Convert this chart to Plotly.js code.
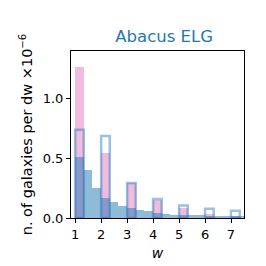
<!DOCTYPE html>
<html>
<head>
<meta charset="utf-8">
<script src="https://cdn.plot.ly/plotly-3.0.1.min.js"></script>
<style>html,body{margin:0;padding:0;background:#fff;}#plot{width:266px;height:266px;}</style>
</head>
<body>
<div id="plot"></div>
<script>
// bin left edges (width 1/3) and histogram heights, in units of 1e-6
var binLeft = [1, 1.3333, 1.6667, 2, 2.3333, 2.6667, 3, 3.3333, 3.6667, 4, 4.3333, 4.6667, 5, 5.3333, 5.6667, 6, 6.3333, 6.6667, 7, 7.3333];
var binWidth = 1/3;
var allGalaxies = [0.51, 0.40, 0.25, 0.165, 0.13, 0.103, 0.084, 0.067, 0.059, 0.042, 0.030, 0.028, 0.025, 0.024, 0.022, 0.020, 0.018, 0.017, 0.016, 0.015];
var intLeft = [1, 2, 3, 4, 5, 6, 7];
var pinkValues = [1.257, 0.542, 0.29, 0.152, 0.081, 0.036, 0.013];
var outlineValues = [0.737, 0.684, 0.292, 0.159, 0.105, 0.077, 0.060];
var xTicks = [1, 2, 3, 4, 5, 6, 7];
var yTicks = [0, 0.5, 1.0];
var yTickText = ['0.0', '0.5', '1.0'];

function centers(lefts){ return lefts.map(function(v){ return v + binWidth/2; }); }

var traces = [
  {type:'bar', x:centers(intLeft), y:pinkValues, width:binWidth,
   marker:{color:'rgba(227,119,194,0.5)', line:{width:0}}, hoverinfo:'none'},
  {type:'bar', x:centers(binLeft), y:allGalaxies, width:binWidth,
   marker:{color:'rgba(31,119,180,0.5)', line:{width:0}}, hoverinfo:'none'},
  {type:'bar', x:centers(intLeft), y:outlineValues, width:binWidth,
   marker:{color:'rgba(0,0,0,0)', line:{width:2.5, color:'rgba(31,119,180,0.45)'}}, hoverinfo:'none'}
];

var layout = {
  width:266, height:266,
  margin:{l:71, r:22, t:51, b:48, pad:0},
  paper_bgcolor:'#fff', plot_bgcolor:'#fff',
  barmode:'overlay', bargap:0, showlegend:false,
  font:{family:'DejaVu Sans', size:13, color:'#000'},
  title:{text:'Abacus ELG', font:{family:'DejaVu Sans', size:16.5, color:'#1f77b4'}, x:0.617, xanchor:'center', y:0.863, yanchor:'middle'},
  xaxis:{range:[0.84, 7.5], tickvals:xTicks, ticks:'outside', ticklen:4, tickwidth:1, tickcolor:'#000',
         showline:true, linecolor:'#000', linewidth:1, mirror:true, showgrid:false, zeroline:false,
         title:{text:'<i>w</i>', font:{size:14}, standoff:7}, automargin:false},
  yaxis:{range:[0, 1.393], tickvals:yTicks, ticktext:yTickText, ticks:'outside', ticklen:4, tickwidth:1, tickcolor:'#000',
         showline:true, linecolor:'#000', linewidth:1, mirror:true, showgrid:false, zeroline:false,
         title:{text:'n. of galaxies per dw ×10<sup>−6</sup>', font:{size:14.5}, standoff:6}, automargin:false}
};
Plotly.newPlot('plot', traces, layout, {staticPlot:true, displayModeBar:false});
</script>
</body>
</html>
